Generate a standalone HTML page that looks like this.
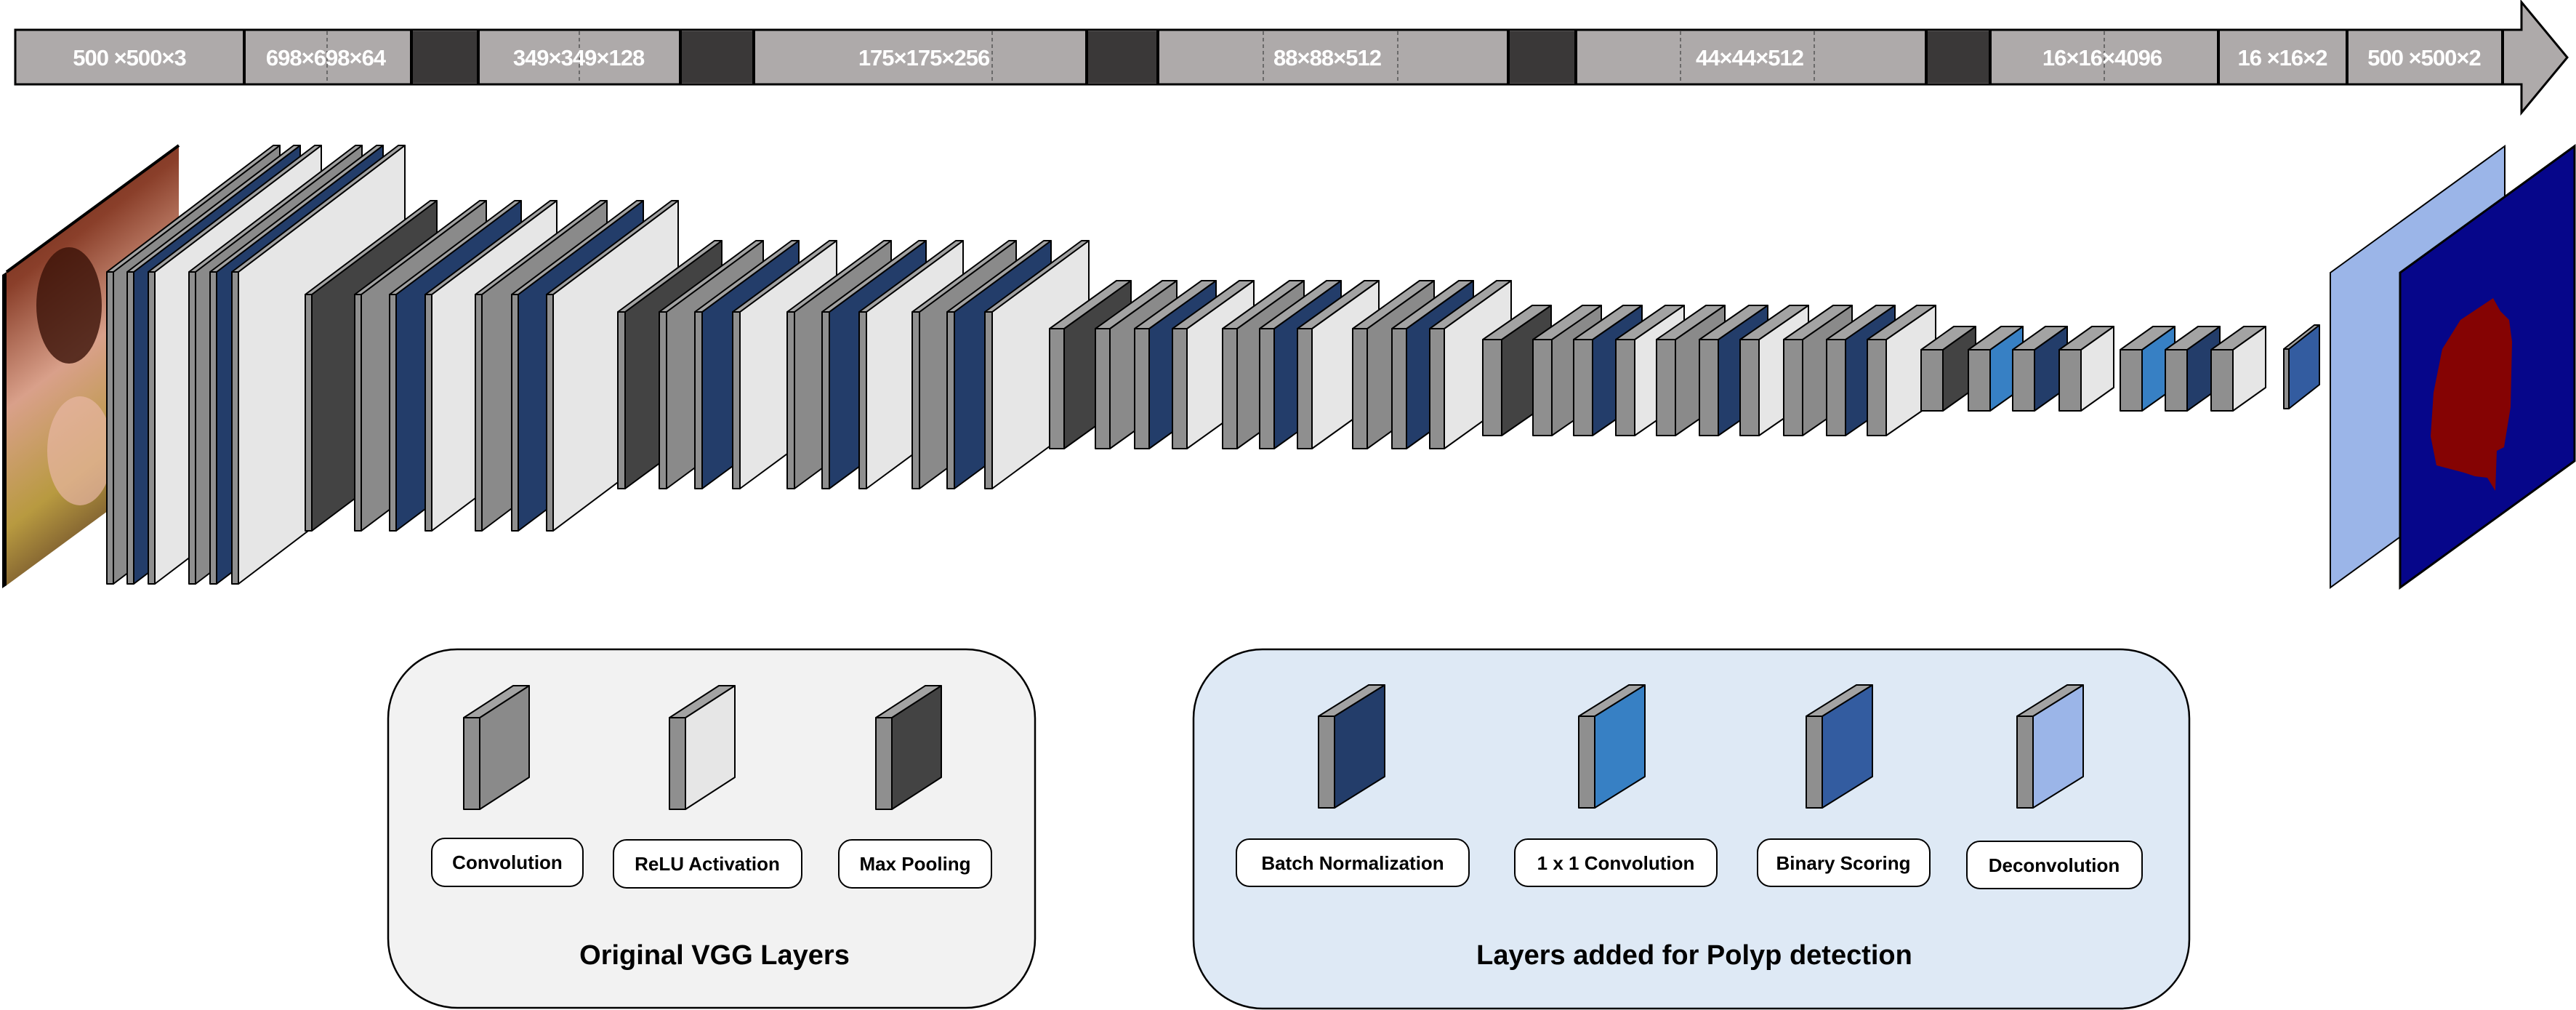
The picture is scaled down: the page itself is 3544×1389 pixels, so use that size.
<!DOCTYPE html>
<html><head><meta charset="utf-8"><style>
html,body{margin:0;padding:0;background:#fff;}
svg{display:block}
text{font-family:"Liberation Sans",sans-serif;}
</style></head><body>
<svg id="s" width="3544" height="1389" viewBox="0 0 3544 1389" xmlns="http://www.w3.org/2000/svg">
<defs>
<linearGradient id="endo" x1="0" y1="0" x2="0.3" y2="1">
<stop offset="0" stop-color="#5a1e12"/>
<stop offset="0.3" stop-color="#8a3f2a"/>
<stop offset="0.55" stop-color="#d9a08a"/>
<stop offset="0.8" stop-color="#b89a40"/>
<stop offset="1" stop-color="#6a4a2a"/>
</linearGradient>
</defs>
<polygon points="21,41 3469,41 3469,3 3532,79 3469,155 3469,116 21,116" fill="#aeaaaa" stroke="#000" stroke-width="3"/>
<rect x="566" y="43" width="92" height="71" fill="#3a3838"/>
<rect x="936" y="43" width="101" height="71" fill="#3a3838"/>
<rect x="1495" y="43" width="98" height="71" fill="#3a3838"/>
<rect x="2075" y="43" width="93" height="71" fill="#3a3838"/>
<rect x="2650" y="43" width="88" height="71" fill="#3a3838"/>
<g stroke="#000" stroke-width="4">
<line x1="336" y1="41" x2="336" y2="116"/><line x1="566" y1="41" x2="566" y2="116"/><line x1="658" y1="41" x2="658" y2="116"/>
<line x1="936" y1="41" x2="936" y2="116"/><line x1="1037" y1="41" x2="1037" y2="116"/><line x1="1495" y1="41" x2="1495" y2="116"/>
<line x1="1593" y1="41" x2="1593" y2="116"/><line x1="2075" y1="41" x2="2075" y2="116"/><line x1="2168" y1="41" x2="2168" y2="116"/>
<line x1="2650" y1="41" x2="2650" y2="116"/><line x1="2738" y1="41" x2="2738" y2="116"/><line x1="3052" y1="41" x2="3052" y2="116"/>
<line x1="3229" y1="41" x2="3229" y2="116"/><line x1="3443" y1="41" x2="3443" y2="116"/>
</g>
<g stroke="#555" stroke-width="1.5" stroke-dasharray="5,4">
<line x1="450" y1="43" x2="450" y2="114"/><line x1="797" y1="43" x2="797" y2="114"/><line x1="1365" y1="43" x2="1365" y2="114"/>
<line x1="1738" y1="43" x2="1738" y2="114"/><line x1="1923" y1="43" x2="1923" y2="114"/><line x1="2312" y1="43" x2="2312" y2="114"/>
<line x1="2496" y1="43" x2="2496" y2="114"/><line x1="2895" y1="43" x2="2895" y2="114"/>
</g>
<g fill="#fff" font-size="31" font-weight="bold" text-anchor="middle" letter-spacing="-1">
<text x="178" y="90">500 ×500×3</text>
<text x="448" y="90">698×698×64</text>
<text x="796" y="90">349×349×128</text>
<text x="1271" y="90">175×175×256</text>
<text x="1826" y="90">88×88×512</text>
<text x="2407" y="90">44×44×512</text>
<text x="2892" y="90">16×16×4096</text>
<text x="3140" y="90">16 ×16×2</text>
<text x="3335" y="90">500 ×500×2</text>
</g>
<polygon points="9,374 246,200 246,631 9,805" fill="url(#endo)"/>
<ellipse cx="95" cy="420" rx="45" ry="80" fill="#3a1208" opacity="0.8"/>
<ellipse cx="110" cy="620" rx="45" ry="75" fill="#e8b6a4" opacity="0.7"/>
<polygon points="3,378 9,374 9,805 3,809" fill="#000"/>
<line x1="9" y1="374" x2="246" y2="200" stroke="#000" stroke-width="4"/>
<g id="slabs"></g>
<polygon points="3206,375 3446,201 3446,634 3206,808" fill="#9bb5e8" stroke="#000" stroke-width="2"/>
<polygon points="3302,375 3542,201 3542,634 3302,808" fill="#06068a" stroke="#000" stroke-width="3"/>
<polygon points="3430,410 3440,428 3452,440 3456,470 3454,560 3445,615 3435,620 3433,675 3422,657 3405,655 3390,650 3352,640 3344,600 3348,540 3360,480 3385,440 3400,430" fill="#850303"/>
<rect x="534" y="893" width="890" height="493" rx="95" ry="95" fill="#f2f2f2" stroke="#000" stroke-width="2.5"/>
<rect x="1642" y="893" width="1370" height="494" rx="95" ry="95" fill="#dee9f5" stroke="#000" stroke-width="2.5"/>
<g id="leg"></g>
<g font-size="26" font-weight="bold" text-anchor="middle" fill="#000" stroke="none">
<rect x="594" y="1153" width="208" height="66" rx="18" fill="#fff" stroke="#000" stroke-width="2"/>
<text x="698" y="1195">Convolution</text>
<rect x="844" y="1155" width="259" height="66" rx="18" fill="#fff" stroke="#000" stroke-width="2"/>
<text x="973" y="1197">ReLU Activation</text>
<rect x="1154" y="1155" width="210" height="66" rx="18" fill="#fff" stroke="#000" stroke-width="2"/>
<text x="1259" y="1197">Max Pooling</text>
<rect x="1701" y="1154" width="320" height="65" rx="18" fill="#fff" stroke="#000" stroke-width="2"/>
<text x="1861" y="1196">Batch Normalization</text>
<rect x="2084" y="1154" width="278" height="65" rx="18" fill="#fff" stroke="#000" stroke-width="2"/>
<text x="2223" y="1196">1 x 1 Convolution</text>
<rect x="2418" y="1154" width="237" height="65" rx="18" fill="#fff" stroke="#000" stroke-width="2"/>
<text x="2536" y="1196">Binary Scoring</text>
<rect x="2706" y="1157" width="241" height="65" rx="18" fill="#fff" stroke="#000" stroke-width="2"/>
<text x="2826" y="1199">Deconvolution</text>
<text x="983" y="1326" font-size="38">Original VGG Layers</text>
<text x="2331" y="1326" font-size="38">Layers added for Polyp detection</text>
</g>
</svg>
<script>
(function(){
var NS="http://www.w3.org/2000/svg";
var C={g:"#8a8a8a",b:"#233d6a",w:"#e6e6e6",p:"#434343",c:"#3780c4",s:"#335ca0",d:"#9bb5e8"};
function poly(par,pts,fill){var p=document.createElementNS(NS,"polygon");p.setAttribute("points",pts.map(function(a){return a.join(",")}).join(" "));p.setAttribute("fill",fill);p.setAttribute("stroke","#000");p.setAttribute("stroke-width","2");p.setAttribute("stroke-linejoin","round");par.appendChild(p);}
function slab(par,x,yt,yb,w,dx,dy,col){
poly(par,[[x+w,yt],[x+w+dx,yt+dy],[x+w+dx,yb+dy],[x+w,yb]],col);
poly(par,[[x,yt],[x+w,yt],[x+w+dx,yt+dy],[x+dx,yt+dy]],"#a3a3a3");
poly(par,[[x,yt],[x+w,yt],[x+w,yb],[x,yb]],"#8f8f8f");}
var S=document.getElementById("slabs");
var G=[
[374,803,9,229,-174,[[147,"g"],[175,"b"],[204,"w"],[260,"g"],[289,"b"],[319,"w"]]],
[405,730,9,172,-129,[[420,"p"],[488,"g"],[536,"b"],[585,"w"],[654,"g"],[704,"b"],[752,"w"]]],
[429,672,10,133,-98,[[850,"p"],[907,"g"],[956,"b"],[1008,"w"],[1083,"g"],[1131,"b"],[1182,"w"],[1255,"g"],[1303,"b"],[1355,"w"]]],
[452,617,20,92,-66,[[1444,"p"],[1507,"g"],[1561,"b"],[1613,"w"],[1682,"g"],[1733,"b"],[1785,"w"],[1861,"g"],[1915,"b"],[1967,"w"]]],
[467,599,26,68,-47,[[2040,"p"],[2109,"g"],[2165,"b"],[2223,"w"],[2279,"g"],[2338,"b"],[2394,"w"],[2454,"g"],[2513,"b"],[2569,"w"]]],
[481,565,30,45,-32,[[2643,"p"],[2708,"c"],[2769,"b"],[2833,"w"],[2917,"c"],[2979,"b"],[3042,"w"]]],
[480,562,7,42,-33,[[3142,"s"]]]
];
G.forEach(function(g){g[5].forEach(function(f){slab(S,f[0],g[0],g[1],g[2],g[3],g[4],C[f[1]]);});});
var L=document.getElementById("leg");
[[638,"g"],[921,"w"],[1205,"p"]].forEach(function(f){slab(L,f[0],987,1113,22,68,-44,C[f[1]]);});
[[1814,"b"],[2172,"c"],[2485,"s"],[2775,"d"]].forEach(function(f){slab(L,f[0],985,1111,22,69,-43,C[f[1]]);});
})();
</script>
</body></html>
